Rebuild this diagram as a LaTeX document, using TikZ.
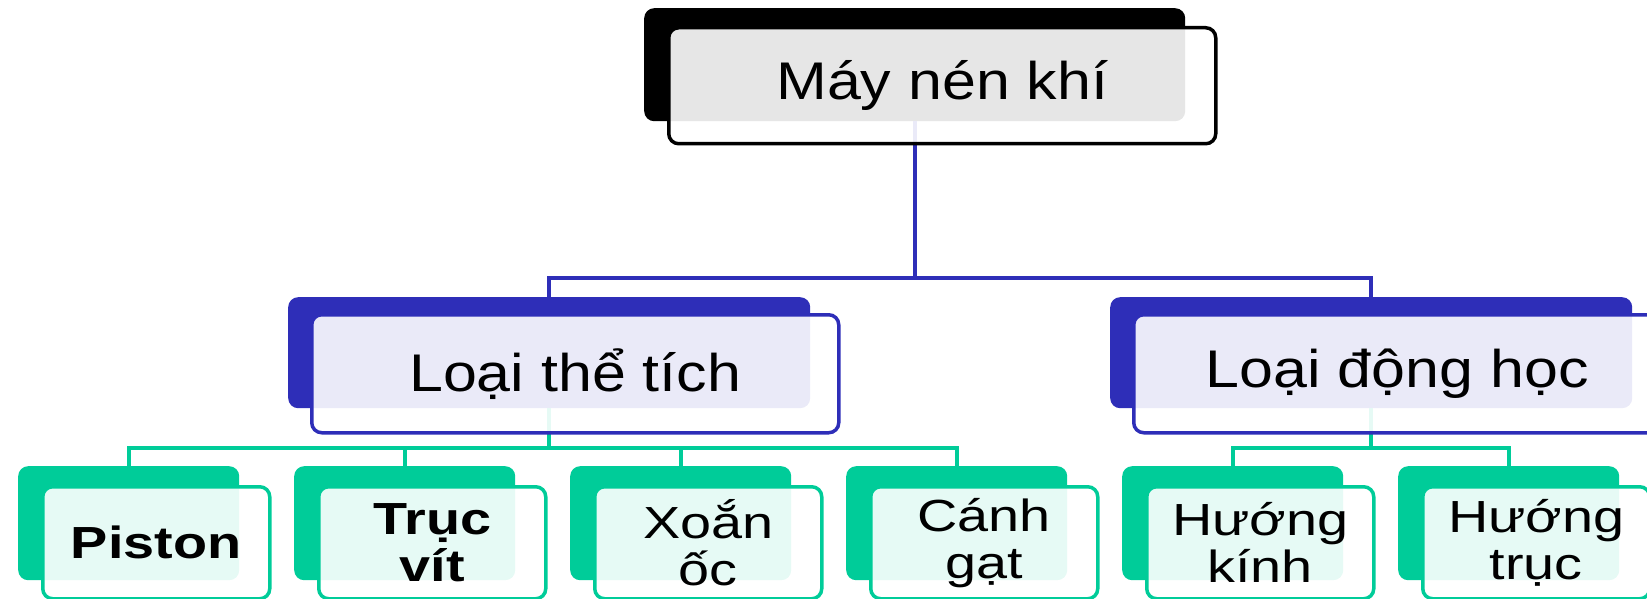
\documentclass[tikz,border=0pt]{standalone}
\usepackage{fontspec}
\newfontfamily\diagfont[FakeStretch=1.15]{Liberation Sans}
\newfontfamily\botfont[FakeStretch=1.24]{Liberation Sans}
\definecolor{blueC}{HTML}{2E2EB8}
\definecolor{greenC}{HTML}{00CC99}
\begin{document}
\begin{tikzpicture}[x=1pt,y=-1pt,
  back/.style={anchor=north west, inner sep=0pt, rounded corners=10pt, fill=#1, draw=none},
  front/.style={anchor=north west, inner sep=0pt, rounded corners=10pt, draw=#1, line width=3.5pt,
     fill=white, fill opacity=0.9, draw opacity=1, text opacity=1, align=center},
  topsz/.style={minimum width=541pt, minimum height=113pt},
  topfsz/.style={minimum width=547pt, minimum height=116pt},
  midsz/.style={minimum width=522pt, minimum height=111pt},
  midfsz/.style={minimum width=527pt, minimum height=118pt},
  botsz/.style={minimum width=221pt, minimum height=114pt},
  botfsz/.style={minimum width=227pt, minimum height=112pt},
  bigtxt/.style={font=\diagfont\fontsize{53}{60}\selectfont},
  bottxt/.style={font=\botfont\fontsize{45}{47}\selectfont},
  bline/.style={draw=blueC, line width=4pt},
  gline/.style={draw=greenC, line width=4pt}]
\useasboundingbox (0,0) rectangle (1647,599);
% back boxes
\node[back=black, topsz] (topb) at (644,8) {};
\node[back=blueC, midsz] (midLb) at (288,297) {};
\node[back=blueC, midsz] (midRb) at (1110,297) {};
\node[back=greenC, botsz] (b1) at (18,466) {};
\node[back=greenC, botsz] (b2) at (294,466) {};
\node[back=greenC, botsz] (b3) at (570,466) {};
\node[back=greenC, botsz] (b4) at (846,466) {};
\node[back=greenC, botsz] (b5) at (1122,466) {};
\node[back=greenC, botsz] (b6) at (1398,466) {};
% connectors
\draw[bline] (topb.south) -- ++(0,157) -| (midLb.north);
\draw[bline] (topb.south) -- ++(0,157) -| (midRb.north);
\draw[gline] (midLb.south) -- ++(0,40) -| (b1.north);
\draw[gline] (midLb.south) -- ++(0,40) -| (b2.north);
\draw[gline] (midLb.south) -- ++(0,40) -| (b3.north);
\draw[gline] (midLb.south) -- ++(0,40) -| (b4.north);
\draw[gline] (midRb.south) -- ++(0,40) -| (b5.north);
\draw[gline] (midRb.south) -- ++(0,40) -| (b6.north);
% front boxes
\node[front=black, topfsz, bigtxt] (top) at (667,26) {Máy nén khí};
\node[front=blueC, midfsz, bigtxt] (midL) at (310,313) {Loại thể tích};
\node[front=blueC, midfsz, bigtxt] (midR) at (1132,313) {Loại động học};
\node[front=greenC, botfsz, bottxt] (f1) at (41,485) {\bfseries Piston};
\node[front=greenC, botfsz, bottxt] (f2) at (317,485) {\bfseries Trục\\\bfseries vít};
\node[front=greenC, botfsz, bottxt] (f3) at (593,485) {Xoắn\\ốc};
\node[front=greenC, botfsz, bottxt] (f4) at (869,485) {Cánh\\gạt};
\node[front=greenC, botfsz, bottxt] (f5) at (1145,485) {Hướng\\kính};
\node[front=greenC, botfsz, bottxt] (f6) at (1421,485) {Hướng\\trục};
\end{tikzpicture}
\end{document}
